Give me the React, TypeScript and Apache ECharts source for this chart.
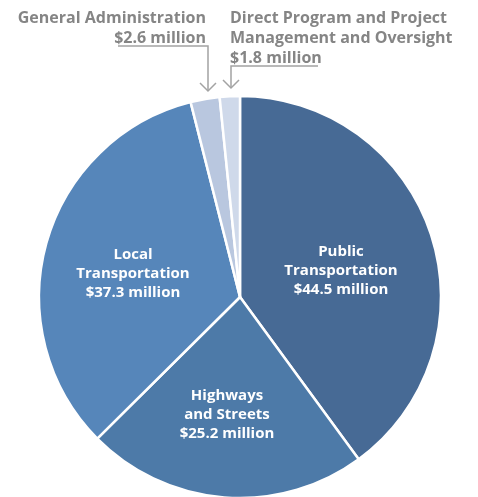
import React, { useEffect, useRef } from "react";
import * as echarts from "echarts";

const categories = [
  "Public\nTransportation",
  "Highways\nand Streets",
  "Local\nTransportation",
  "General Administration",
  "Direct Program and Project\nManagement and Oversight",
];
const values = [44.5, 25.2, 37.3, 2.6, 1.8];
const colors = ["#476a95", "#4d7aa8", "#5686ba", "#b9c7df", "#cfd9ea"];

// label anchor positions (layout only)
const labelPos: [number, number, string][] = [
  [341, 269, "center"],
  [227, 413, "center"],
  [133, 272, "center"],
  [206, 27, "right"],
  [230, 37, "left"],
];

export default function App() {
  const ref = useRef<HTMLDivElement>(null);
  useEffect(() => {
    if (!ref.current) return;
    const chart = echarts.init(ref.current, null, { renderer: "svg" });
    const gray = "#a3a3a3";
    chart.setOption({
      animation: false,
      series: [
        {
          type: "pie",
          center: [240, 297],
          radius: [0, 201],
          startAngle: 90,
          clockwise: true,
          silent: true,
          itemStyle: { borderColor: "#ffffff", borderWidth: 2.5 },
          label: {
            show: true,
            position: "inside",
            formatter: (p: any) => `${p.name}\n$${p.value} million`,
            color: "#ffffff",
            fontFamily: "Open Sans",
            fontWeight: "bold",
            fontSize: 15,
            lineHeight: 19,
          },
          labelLine: { show: false },
          labelLayout: (p: any) => {
            const lp = labelPos[p.dataIndex];
            return { x: lp[0], y: lp[1], align: lp[2], verticalAlign: "middle" };
          },
          data: categories.map((c, i) => ({
            name: c,
            value: values[i],
            itemStyle: { color: colors[i] },
            label:
              i >= 3
                ? {
                    color: "#858585",
                    fontSize: 16,
                    lineHeight: 20,
                    align: i === 3 ? "right" : "left",
                  }
                : { align: "center" },
          })),
        },
      ],
      graphic: [
        {
          type: "polyline",
          shape: { points: [[118, 46], [208, 46], [208, 91]] },
          style: { stroke: gray, lineWidth: 1.5, fill: "none" },
        },
        {
          type: "polyline",
          shape: { points: [[200, 83], [208, 91], [216, 83]] },
          style: { stroke: gray, lineWidth: 1.5, fill: "none" },
        },
        {
          type: "polyline",
          shape: { points: [[318, 66], [231, 66], [231, 88]] },
          style: { stroke: gray, lineWidth: 1.5, fill: "none" },
        },
        {
          type: "polyline",
          shape: { points: [[223, 80], [231, 88], [239, 80]] },
          style: { stroke: gray, lineWidth: 1.5, fill: "none" },
        },
      ],
    });
    return () => chart.dispose();
  }, []);
  return (
    <div
      ref={ref}
      style={{ position: "fixed", left: 0, top: 0, width: 478, height: 497 }}
    />
  );
}
